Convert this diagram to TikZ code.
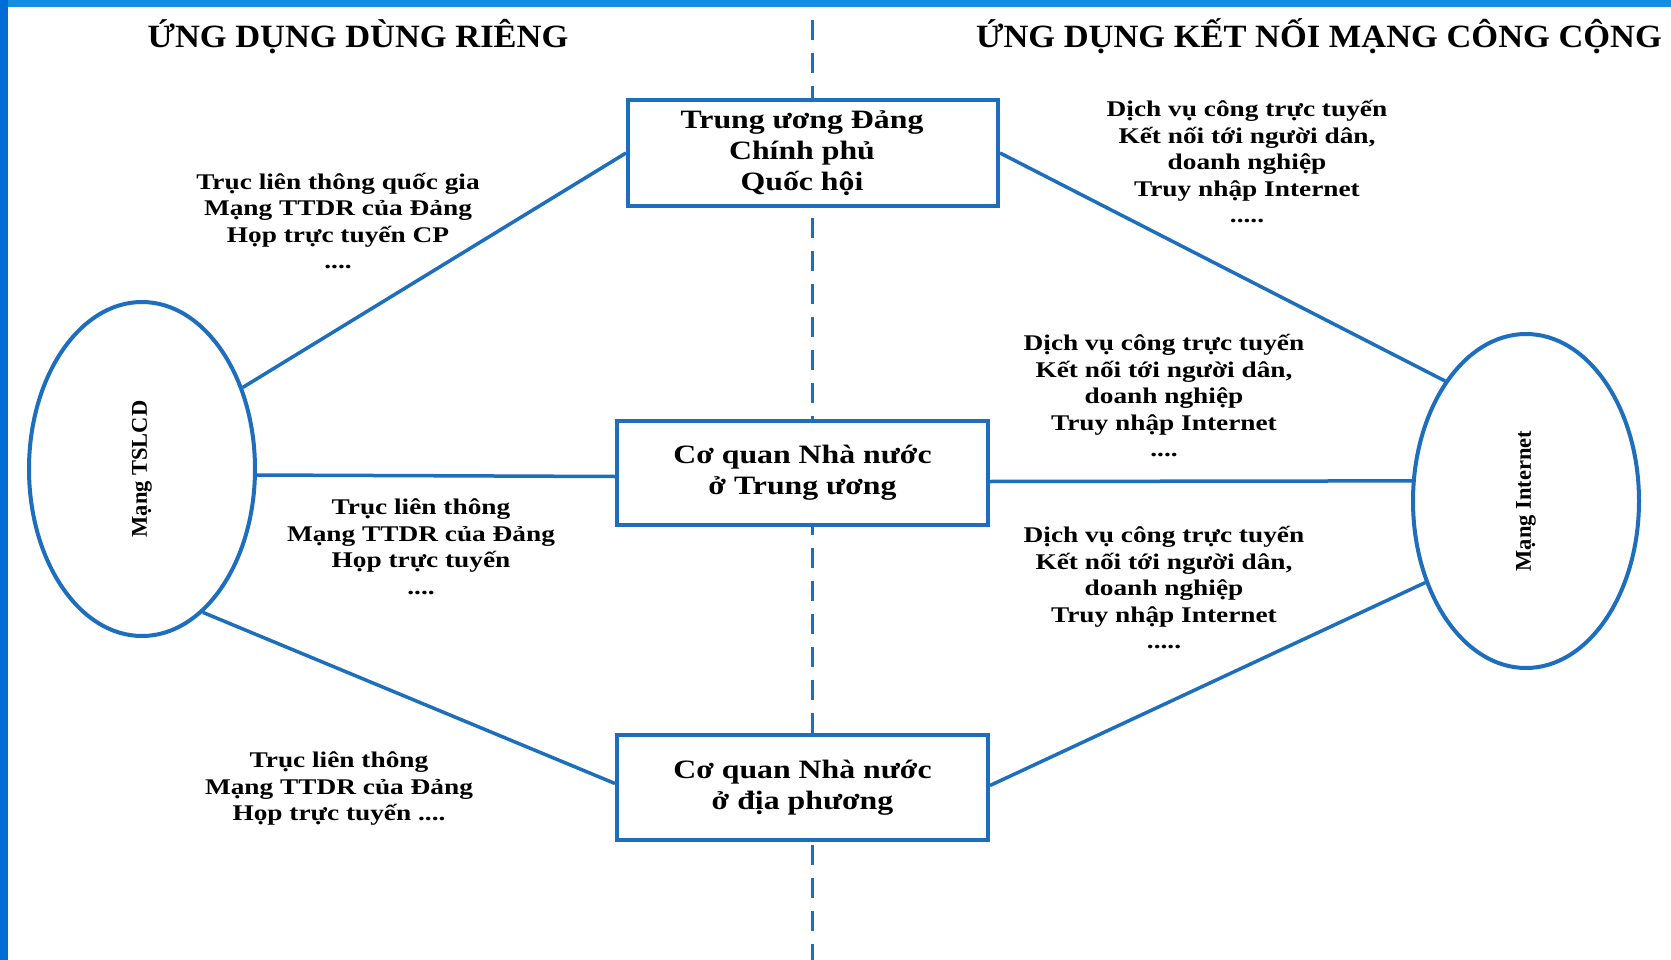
\documentclass[tikz,border=0pt]{standalone}
\usepackage{fontspec}
\setmainfont{Liberation Serif}
\newfontfamily\headfont{Liberation Serif}[FakeStretch=1.06]
\newfontfamily\boxfont{Liberation Serif}[FakeStretch=1.2]
\newfontfamily\notefont{Liberation Serif}[FakeStretch=1.22]
\usetikzlibrary{shapes.geometric,calc}
\definecolor{lineblue}{RGB}{30,110,190}
\definecolor{edgeblue}{RGB}{0,108,214}
\definecolor{topblue}{RGB}{20,142,228}
\begin{document}
\begin{tikzpicture}[x=1pt,y=-1pt,
  link/.style={draw=lineblue,line width=3.5pt},
  unit/.style={draw=lineblue,line width=4pt,fill=white,inner sep=0pt},
  unittext/.style={align=center,inner sep=0pt,
    font=\boxfont\bfseries\fontsize{26.5}{31}\selectfont},
  net/.style={ellipse,draw=lineblue,line width=4pt,fill=white,minimum width=226pt,
    minimum height=334pt,inner sep=0pt,font=\bfseries\fontsize{22.5}{26}\selectfont},
  note/.style={align=center,inner sep=0pt,font=\notefont\bfseries\fontsize{22.4}{26.5}\selectfont},
  heading/.style={anchor=base,inner sep=0pt,font=\headfont\bfseries\fontsize{32.5}{38}\selectfont},
]
\useasboundingbox (0,0) rectangle (1671,960);
\fill[white] (0,0) rectangle (1671,960);
% frame strips
\fill[topblue] (0,0) rectangle (1671,7);
\fill[edgeblue] (0,0) rectangle (8,960);

% separator between private and public applications
\coordinate (sepTop) at (812,20);
\coordinate (sepBot) at (812,960);
\draw[lineblue,line width=3pt,dash pattern=on 20pt off 13pt] (sepTop) -- (sepBot);

% headings
\node[heading] (hl) at (358,48) {ỨNG DỤNG DÙNG RIÊNG};
\node[heading] (hr) at (1319,48) {ỨNG DỤNG KẾT NỐI MẠNG CÔNG CỘNG};

% networks
\node[net] (tslcd) at (142,469) {\rotatebox{90}{Mạng TSLCD}};
\node[net] (inet) at (1526,501) {\rotatebox{90}{Mạng Internet}};

% agencies
\node[unit,minimum width=370pt,minimum height=106pt] (tw) at (813,153) {};
\node[unittext] (twt) at ($(tw.center)+(-11,0)$) {Trung ương Đảng\\Chính phủ\\Quốc hội};
\node[unit,minimum width=371pt,minimum height=104pt] (tu) at (802.5,472.5) {};
\node[unittext] (tut) at (tu.center) {Cơ quan Nhà nước\\ở Trung ương};
\node[unit,minimum width=371pt,minimum height=105pt] (dp) at (802.5,787.5) {};
\node[unittext] (dpt) at (dp.center) {Cơ quan Nhà nước\\ở địa phương};

% connectors
\draw[link] (tslcd.39) -- (tw.west);
\draw[link] (tslcd.-3.5) -- ($(tu.west)+(0,4)$);
\draw[link] (tslcd.-67.5) -- ($(dp.west)+(0,-4)$);
\draw[link] (tw.east) -- (inet.124);
\draw[link] ($(tu.east)+(0,9)$) -- (inet.170);
\draw[link] ($(dp.east)+(0,-2)$) -- (inet.-141);

% service notes
\node[note] (n1) at (338,221) {Trục liên thông quốc gia\\Mạng TTDR của Đảng\\Họp trực tuyến CP\\....};
\node[note] (n2) at (421,547) {Trục liên thông\\Mạng TTDR của Đảng\\Họp trực tuyến\\....};
\node[note] (n3) at (339,789) {Trục liên thông\\Mạng TTDR của Đảng\\Họp trực tuyến ....};
\node[note] (n4) at (1247,162) {Dịch vụ công trực tuyến\\Kết nối tới người dân,\\doanh nghiệp\\Truy nhập Internet\\.....};
\node[note] (n5) at (1164,396) {Dịch vụ công trực tuyến\\Kết nối tới người dân,\\doanh nghiệp\\Truy nhập Internet\\....};
\node[note] (n6) at (1164,588) {Dịch vụ công trực tuyến\\Kết nối tới người dân,\\doanh nghiệp\\Truy nhập Internet\\.....};
\end{tikzpicture}
\end{document}
